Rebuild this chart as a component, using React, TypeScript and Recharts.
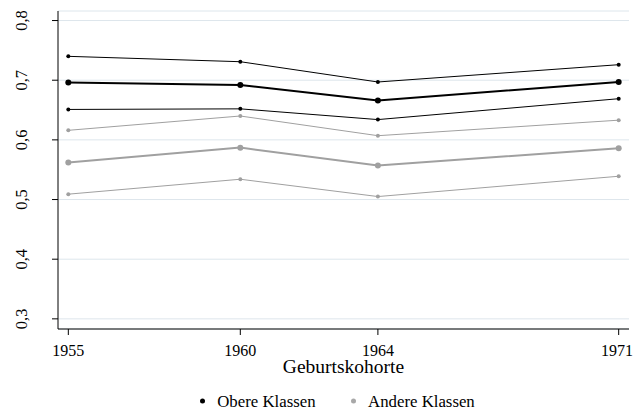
import React from 'react';
import { LineChart, Line, XAxis, YAxis, CartesianGrid, Legend } from 'recharts';

const years = [1955, 1960, 1964, 1971];
const obereUpper = [0.740, 0.731, 0.697, 0.726];
const obereMean = [0.696, 0.692, 0.666, 0.697];
const obereLower = [0.651, 0.652, 0.634, 0.669];
const andereUpper = [0.616, 0.640, 0.607, 0.633];
const andereMean = [0.562, 0.587, 0.557, 0.586];
const andereLower = [0.509, 0.534, 0.505, 0.539];
const yTicks = [0.3, 0.4, 0.5, 0.6, 0.7, 0.8];
const legendItems = [
  { label: 'Obere Klassen', color: '#000000' },
  { label: 'Andere Klassen', color: '#a8a8a8' },
];

const data = years.map((y, i) => ({
  year: y,
  oU: obereUpper[i],
  oM: obereMean[i],
  oL: obereLower[i],
  aU: andereUpper[i],
  aM: andereMean[i],
  aL: andereLower[i],
}));

const FONT = '"Liberation Serif", "Times New Roman", serif';
const BLACK = '#000000';
const GRAY = '#a0a0a0';

const YTick = (props: any) => {
  const { x, y, payload } = props;
  const tx = x - 23;
  return (
    <text
      x={tx}
      y={y}
      transform={`rotate(-90, ${tx}, ${y})`}
      textAnchor="middle"
      fontFamily={FONT}
      fontSize={16.5}
      fill="#000"
    >
      {String(payload.value.toFixed(1)).replace('.', ',')}
    </text>
  );
};

const LegendContent = () => (
  <div
    style={{
      height: 24,
      display: 'flex',
      justifyContent: 'center',
      alignItems: 'center',
      fontFamily: FONT,
      fontSize: 16.8,
      color: '#000',
      paddingRight: 12,
      boxSizing: 'border-box',
      transform: 'translateY(1.5px)',
    }}
  >
    {legendItems.map((it, i) => (
      <div key={it.label} style={{ display: 'flex', alignItems: 'center', marginLeft: i === 0 ? 0 : 35.5 }}>
        <span
          style={{
            display: 'inline-block',
            width: 5,
            height: 5,
            borderRadius: '50%',
            background: it.color,
            marginRight: 12,
            position: 'relative',
            top: -0.8,
          }}
        />
        <span>{it.label}</span>
      </div>
    ))}
  </div>
);

export default function App() {
  const ciDot = (c: string) => ({ r: 2, fill: c, stroke: 'none' });
  const mDot = (c: string) => ({ r: 3, fill: c, stroke: 'none' });
  return (
    <div style={{ position: 'absolute', left: 0, top: 0, background: '#fff' }}>
      <LineChart
        width={633}
        height={412}
        data={data}
        margin={{ top: 11, right: 4, left: 0, bottom: 0 }}
      >
        <CartesianGrid vertical={false} stroke="#dde6ec" strokeWidth={1} />
        <XAxis
          dataKey="year"
          type="number"
          domain={[1954.7, 1971.3]}
          ticks={years}
          allowDataOverflow
          height={59}
          tickSize={6}
          tickMargin={10}
          axisLine={{ stroke: BLACK }}
          tickLine={{ stroke: BLACK }}
          tick={{ fill: '#000', fontFamily: FONT, fontSize: 16 }}
          label={{
            value: 'Geburtskohorte',
            position: 'insideBottom',
            offset: 15,
            fill: '#000',
            fontFamily: FONT,
            fontSize: 19.5,
          }}
        />
        <YAxis
          type="number"
          domain={[0.283, 0.816]}
          ticks={yTicks}
          allowDataOverflow
          width={58}
          tickSize={6}
          axisLine={{ stroke: BLACK }}
          tickLine={{ stroke: BLACK }}
          tick={<YTick />}
        />
        <Legend
          verticalAlign="bottom"
          content={<LegendContent />}
          wrapperStyle={{ left: 58, width: 571 }}
        />
        <Line dataKey="aU" stroke={GRAY} strokeWidth={1} dot={ciDot(GRAY)} isAnimationActive={false} />
        <Line dataKey="aL" stroke={GRAY} strokeWidth={1} dot={ciDot(GRAY)} isAnimationActive={false} />
        <Line dataKey="aM" stroke={GRAY} strokeWidth={2} dot={mDot(GRAY)} isAnimationActive={false} />
        <Line dataKey="oU" stroke={BLACK} strokeWidth={1} dot={ciDot(BLACK)} isAnimationActive={false} />
        <Line dataKey="oL" stroke={BLACK} strokeWidth={1} dot={ciDot(BLACK)} isAnimationActive={false} />
        <Line dataKey="oM" stroke={BLACK} strokeWidth={2} dot={mDot(BLACK)} isAnimationActive={false} />
      </LineChart>
    </div>
  );
}
